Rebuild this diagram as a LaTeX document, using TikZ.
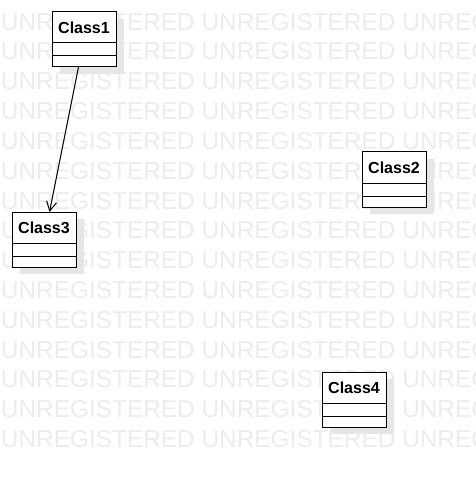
\documentclass[tikz,border=0pt]{standalone}
\usepackage{fontspec}
\setmainfont{Liberation Sans}
\usetikzlibrary{arrows.meta}
\usetikzlibrary{positioning}

\definecolor{wmgray}{RGB}{236,236,236}
\definecolor{shadowgray}{RGB}{230,230,230}

\begin{document}
\begin{tikzpicture}
	[x=0.75pt,y=-0.75pt,
	every node/.style={inner sep=0pt,outer sep=0pt},
	watermark/.style={anchor=base west,text=wmgray,font=\fontsize{18.3}{20}\selectfont},
	classbox/.style={rectangle,draw,fill=white,line width=0.75pt,minimum width=48pt,minimum height=41.25pt,anchor=north west},
	classname/.style={anchor=base,font=\fontsize{12}{14}\selectfont\bfseries},
	assoc/.style={line width=0.75pt,-{Straight Barb[length=7pt,width=7.5pt]}}]
	\useasboundingbox (0,0) rectangle (475,477);
	\clip (0,0) rectangle (475,477);
	\foreach \r in {0,...,14}
	\node[watermark] (wm\r) at (1,{30.2+29.8*\r}) {UNREGISTERED UNREGISTERED UNREGISTERED};

	\foreach \n/\x/\y in {1/52/12, 2/362/152, 3/12/212, 4/322/372} {
	\fill[shadowgray] (\x+8,\y+7) rectangle ++(64,55);
	\node[classbox] (c\n) at (\x,\y) {};
	\node[classname] (c\n-name) at (\x+32,\y+21.5) {Class\n};
	\draw[line width=0.75pt] (c\n.north west) ++(0,31) -- ++(64,0);
	\draw[line width=0.75pt] (c\n.north west) ++(0,44) -- ++(64,0);
	}
	\draw[assoc] (c1) -- (c3);
\end{tikzpicture}
\end{document}
